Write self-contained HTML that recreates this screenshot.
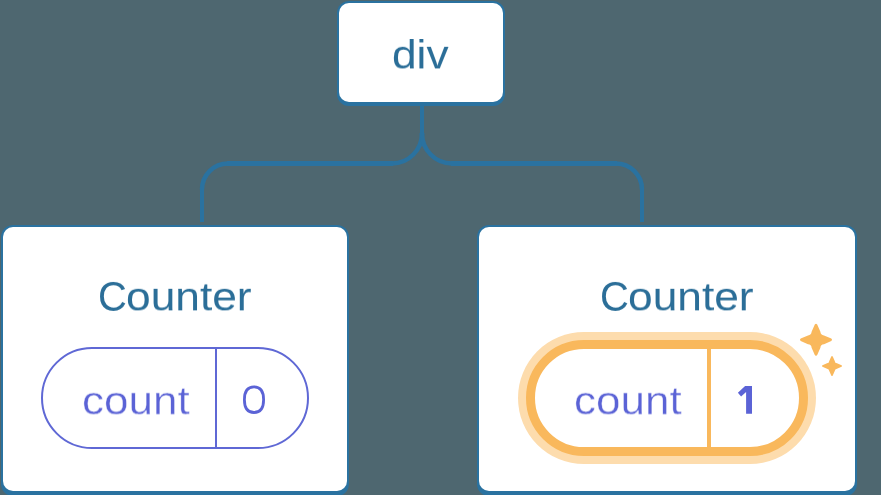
<!DOCTYPE html>
<html><head><meta charset="utf-8">
<style>
html,body{margin:0;padding:0;}
body{width:881px;height:495px;overflow:hidden;background:#4e6770;position:relative;font-family:"Liberation Sans",sans-serif;}
.abs{position:absolute;}
.box{position:absolute;background:#2a72a0;border-radius:12px;}
.inner{position:absolute;background:#fff;border-radius:10px;}
.t{position:absolute;white-space:nowrap;line-height:1;transform-origin:0 0;will-change:transform;}
</style></head>
<body>
<svg class="abs" style="left:0;top:0" width="881" height="495">
  <path d="M422,133 A30,30 0 0 1 392,163.5 H228 A26,26 0 0 0 202,189.5" fill="none" stroke="#2a72a0" stroke-width="4.5"/>
  <path d="M422,133 A30,30 0 0 0 452,163.5 H616 A26,26 0 0 1 642,189.5" fill="none" stroke="#2a72a0" stroke-width="4.5"/>
  <rect x="227" y="161" width="166" height="5" fill="#2a72a0"/>
  <rect x="451" y="161" width="166" height="5" fill="#2a72a0"/>
  <rect x="420" y="104" width="4" height="30" fill="#2a72a0"/>
  <rect x="200" y="189" width="4" height="33" fill="#2a72a0"/>
  <rect x="640" y="189" width="4" height="33" fill="#2a72a0"/>
</svg>
<div class="box" style="left:337px;top:1px;width:168px;height:105px;"></div>
<div class="inner" style="left:339px;top:3px;width:164px;height:98.5px;"></div>

<div class="t" style="left:391.89px;top:34.67px;font-size:40px;font-weight:400;color:#2b6e98;transform:scale(1.1061,0.9833);">div</div>
<div class="box" style="left:1px;top:225px;width:348px;height:271px;"></div>
<div class="inner" style="left:3px;top:227px;width:344px;height:264px;"></div>
<div class="box" style="left:477px;top:225px;width:380px;height:271px;"></div>
<div class="inner" style="left:479px;top:227px;width:376px;height:264px;"></div>
<div class="t" style="left:98.01px;top:274.68px;font-size:40px;font-weight:400;color:#2b6e98;transform:scale(0.996,1.0536);">C</div>
<div class="t" style="left:125.89px;top:277.23px;font-size:40px;font-weight:400;color:#2b6e98;transform:scale(1.1072,0.9815);">ounter</div>
<div class="t" style="left:600.01px;top:274.68px;font-size:40px;font-weight:400;color:#2b6e98;transform:scale(0.996,1.0536);">C</div>
<div class="t" style="left:627.89px;top:277.23px;font-size:40px;font-weight:400;color:#2b6e98;transform:scale(1.1072,0.9815);">ounter</div>
<div class="abs" style="left:41px;top:347px;width:264px;height:98px;border:2px solid #5f68d5;border-radius:51px;background:#fff;"></div>
<div class="abs" style="left:215px;top:347px;width:2px;height:102px;background:#5f68d5;"></div>
<div class="t" style="left:82.2px;top:380.93px;font-size:40px;font-weight:400;color:#5b63d6;transform:scale(1.101,0.9815);-webkit-text-stroke:0.4px #fff;">count</div>
<svg class="abs" style="left:0;top:0" width="881" height="495"><path d="M254,386.8 C259.8,386.8 263.6,391 263.6,399.65 C263.6,408.3 259.8,412.5 254,412.5 C248.2,412.5 244.4,408.3 244.4,399.65 C244.4,391 248.2,386.8 254,386.8 Z" fill="none" stroke="#5b63d6" stroke-width="2.8"/></svg>
<div class="abs" style="left:526px;top:340px;width:264px;height:98px;border:9px solid #f9b85c;border-radius:60px;background:#fff;box-shadow:0 0 0 8px #fddcad;"></div>
<div class="abs" style="left:707px;top:340px;width:4px;height:116px;background:#f9b85c;"></div>
<div class="t" style="left:574.2px;top:380.93px;font-size:40px;font-weight:400;color:#5b63d6;transform:scale(1.101,0.9815);-webkit-text-stroke:0.4px #fff;">count</div>
<svg class="abs" style="left:0;top:0" width="881" height="495"><path d="M745.1,386.1 H752 V413.8 H746.1 V392 L741.1,396.4 L737.9,392.7 Z" fill="#5b63d6"/></svg>
<svg class="abs" style="left:0;top:0" width="881" height="495">
  <path transform="translate(816,339.8)" d="M-1.2,-15.3 Q0,-16.9 1.2,-15.3 L4.4,-8 Q4.6,-4.6 8,-4.4 L15.3,-1.2 Q16.9,0 15.3,1.2 L8,4.4 Q4.6,4.6 4.4,8 L1.2,15.3 Q0,16.9 -1.2,15.3 L-4.4,8 Q-4.6,4.6 -8,4.4 L-15.3,1.2 Q-16.9,0 -15.3,-1.2 L-8,-4.4 Q-4.6,-4.6 -4.4,-8 Z" fill="#f9b85c"/>
  <path transform="translate(832,366) scale(0.625)" d="M-1.2,-15.3 Q0,-16.9 1.2,-15.3 L4.4,-8 Q4.6,-4.6 8,-4.4 L15.3,-1.2 Q16.9,0 15.3,1.2 L8,4.4 Q4.6,4.6 4.4,8 L1.2,15.3 Q0,16.9 -1.2,15.3 L-4.4,8 Q-4.6,4.6 -8,4.4 L-15.3,1.2 Q-16.9,0 -15.3,-1.2 L-8,-4.4 Q-4.6,-4.6 -4.4,-8 Z" fill="#f9b85c"/>
</svg>
</body></html>
